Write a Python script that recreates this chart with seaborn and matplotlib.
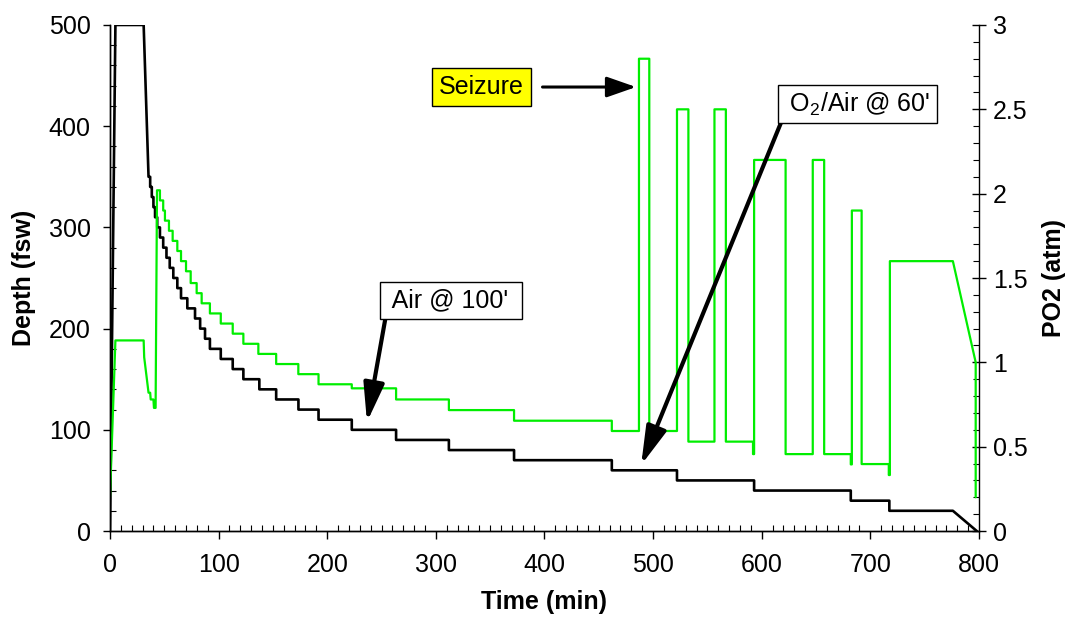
import matplotlib
matplotlib.use("Agg")
import matplotlib.pyplot as plt
from matplotlib.ticker import MultipleLocator, FuncFormatter
import numpy as np
import pandas as pd
import seaborn as sns

# depth profile (fsw): descent / bottom / initial ascent, then decompression stops
depth_lead_t = [0, 5, 31, 35.5]
depth_lead_fsw = [0, 500, 500, 350]
depth_stop_start = [35.5, 37, 38.5, 40, 41.5, 43.5, 46, 49, 52, 55, 58.3, 62, 65.4,
                    71.2, 78.3, 83, 87.5, 92, 102, 113, 122.8, 137.5, 153, 173.5,
                    192, 222.6, 263.4, 312, 372, 462, 522, 593, 682, 717.5]
depth_stop_fsw = [350, 340, 330, 320, 310, 300, 290, 280, 270, 260, 250, 240, 230,
                  220, 210, 200, 190, 180, 170, 160, 150, 140, 130, 120,
                  110, 100, 90, 80, 70, 60, 50, 40, 30, 20]
depth_tail_t = [776, 798]
depth_tail_fsw = [20, 0]

# PO2 (atm)
po2_lead_t = [0, 5, 31, 31.5, 35.5, 37, 37.5, 40, 40.5, 42]
po2_lead_atm = [0.20, 1.13, 1.13, 1.03, 0.82, 0.82, 0.78, 0.78, 0.73, 0.73]
po2_stop_start = [43.3, 46, 49, 50.6, 54.3, 57.7, 62, 65.4, 70, 74.3, 79.8, 84.4,
                  92, 102, 113, 122.8, 136.6, 153, 173.4, 192, 222.6, 263.4, 312,
                  372, 462,
                  487, 496.5, 522, 532.5, 556.5, 567, 592, 593, 622, 647, 657.5,
                  682, 683, 692, 717, 718]
po2_stop_atm = [2.02, 1.96, 1.90, 1.84, 1.78, 1.72, 1.66, 1.60, 1.54, 1.47, 1.41, 1.35,
                1.29, 1.23, 1.17, 1.11, 1.05, 0.99, 0.93, 0.87, 0.846, 0.78, 0.717,
                0.654, 0.593,
                2.80, 0.593, 2.50, 0.53, 2.50, 0.53, 0.456, 2.20, 0.456, 2.20, 0.456,
                0.395, 1.90, 0.397, 0.332, 1.60]
po2_tail_t = [776, 797, 797]
po2_tail_atm = [1.60, 1.00, 0.20]


def step_path(lead_t, lead_v, starts, values, tail_t, tail_v):
    ends = list(starts[1:]) + [tail_t[0]]
    t = list(lead_t)
    v = list(lead_v)
    for s, e, val in zip(starts, ends, values):
        t += [s, e]
        v += [val, val]
    t += list(tail_t)
    v += list(tail_v)
    return pd.DataFrame({"t": t, "v": v})


depth_df = step_path(depth_lead_t, depth_lead_fsw, depth_stop_start, depth_stop_fsw,
                     depth_tail_t, depth_tail_fsw)
po2_df = step_path(po2_lead_t, po2_lead_atm, po2_stop_start, po2_stop_atm,
                   po2_tail_t, po2_tail_atm)

sns.set_theme(style="ticks")
plt.rcParams["font.family"] = ["Liberation Sans", "DejaVu Sans"]
plt.rcParams["mathtext.fontset"] = "custom"
plt.rcParams["mathtext.rm"] = "Liberation Sans"
plt.rcParams["axes.edgecolor"] = "black"
plt.rcParams["axes.labelcolor"] = "black"
plt.rcParams["text.color"] = "black"
plt.rcParams["axes.linewidth"] = 1.0

fig, ax = plt.subplots(figsize=(10.74, 6.2), dpi=100)
fig.subplots_adjust(left=0.1024, right=0.9115, top=0.9597, bottom=0.1435)

sns.lineplot(data=depth_df, x="t", y="v", sort=False, estimator=None,
             color="black", lw=1.9, ax=ax)
ax2 = ax.twinx()
sns.lineplot(data=po2_df, x="t", y="v", sort=False, estimator=None,
             color="#00ee00", lw=1.6, ax=ax2)

ax.set_xlim(0, 800)
ax.set_ylim(0, 500)
ax2.set_ylim(0, 3)
ax.xaxis.set_major_locator(MultipleLocator(100))
ax.xaxis.set_minor_locator(MultipleLocator(10))
ax.yaxis.set_major_locator(MultipleLocator(100))
ax.yaxis.set_minor_locator(MultipleLocator(20))
ax2.yaxis.set_major_locator(MultipleLocator(0.5))
ax2.yaxis.set_minor_locator(MultipleLocator(0.1))
ax2.yaxis.set_major_formatter(FuncFormatter(lambda v, p: f"{v:g}"))

for a in (ax, ax2):
    a.spines["top"].set_visible(False)
ax.spines["right"].set_visible(False)

ax.tick_params(axis="x", which="major", direction="out", length=6, width=1,
               labelsize=18, pad=10, colors="black", bottom=True, top=False)
ax.tick_params(axis="x", which="minor", direction="in", length=4, width=0.8,
               colors="black", bottom=True, top=False)
ax.tick_params(axis="y", which="major", direction="out", length=5, width=1,
               labelsize=18, pad=9, colors="black", left=True, right=False)
ax.tick_params(axis="y", which="minor", direction="in", length=4, width=0.8,
               colors="black", left=True, right=False)
ax2.tick_params(axis="y", which="major", direction="inout", length=10, width=1,
                labelsize=18, pad=5, colors="black", right=True, left=False)
ax2.tick_params(axis="y", which="minor", direction="in", length=4, width=0.8,
                colors="black", right=True, left=False)

ax.set_xlabel("Time (min)", fontsize=18, fontweight="bold")
ax.set_ylabel("Depth (fsw)", fontsize=18, fontweight="bold")
ax2.set_ylabel("PO2 (atm)", fontsize=18, fontweight="bold")
ax.xaxis.set_label_coords(0.5, -0.117)
ax.yaxis.set_label_coords(-0.085, 0.5)
ax2.yaxis.set_label_coords(1.073, 0.5)

# annotations, drawn on the twin axes so they sit above the lines
ann_font = dict(fontsize=18, ha="center", va="center", color="black")
ax2.annotate("Seizure", xy=(484.3, 438.7), xycoords=ax.transData,
             xytext=(342, 438.7), textcoords=ax.transData,
             bbox=dict(boxstyle="square,pad=0.28", fc="#ffff00", ec="black", lw=1),
             arrowprops=dict(arrowstyle="-|>,head_length=1.0,head_width=0.35",
                             color="black", lw=2.2, mutation_scale=18,
                             shrinkA=8, shrinkB=0, relpos=(1, 0.5)),
             **ann_font)
ax2.annotate(" Air @ 100' ", xy=(236.6, 107.7), xycoords=ax.transData,
             xytext=(314, 228), textcoords=ax.transData,
             bbox=dict(boxstyle="square,pad=0.25", fc="white", ec="black", lw=1),
             arrowprops=dict(arrowstyle="-|>,head_length=1.3,head_width=0.35",
                             color="black", lw=3, mutation_scale=18,
                             shrinkA=0, shrinkB=0, relpos=(0, 0)),
             **ann_font)
ax2.annotate(r" $\mathregular{O_2}$/Air @ 60' ", xy=(489, 65.2), xycoords=ax.transData,
             xytext=(688, 422), textcoords=ax.transData,
             bbox=dict(boxstyle="square,pad=0.2", fc="white", ec="black", lw=1),
             arrowprops=dict(arrowstyle="-|>,head_length=1.3,head_width=0.35",
                             color="black", lw=3, mutation_scale=18,
                             shrinkA=0, shrinkB=0, relpos=(0, 0)),
             **ann_font)

fig.savefig("out.png", dpi=100)
